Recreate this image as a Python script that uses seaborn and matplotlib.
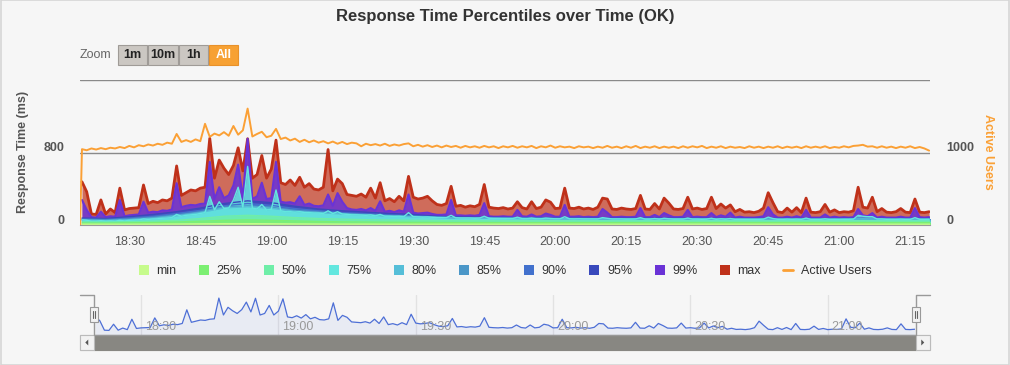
import pandas as pd
import matplotlib
matplotlib.use("Agg")
import matplotlib.pyplot as plt
import matplotlib.dates as mdates
import matplotlib.transforms as mtransforms
from matplotlib.patches import Rectangle, Patch, Polygon
from matplotlib.lines import Line2D
import seaborn as sns

W, H = 1010, 365

# one sample per minute, 18:20 -> 21:19
start = pd.Timestamp("2024-01-01 18:20:00")
minutes = pd.date_range(start, periods=180, freq="1min")
# coarse 5 minute samples for the smoother bands
coarse = pd.date_range(start, periods=37, freq="5min")
users_times = [pd.Timestamp("2024-01-01 18:19:37")] + list(minutes)

max_ms = [480, 370, 125, 120, 280, 125, 180, 140, 410, 170,
          185, 190, 195, 445, 240, 265, 250, 280, 270, 300,
          655, 330, 360, 390, 380, 410, 420, 960, 520, 720,
          630, 560, 660, 855, 600, 955, 520, 560, 770, 520,
          620, 940, 470, 450, 500, 440, 530, 420, 460, 400,
          390, 420, 836, 380, 510, 460, 340, 330, 320, 345,
          310, 410, 300, 470, 270, 295, 260, 320, 270, 540,
          310, 290, 300, 320, 270, 230, 220, 240, 430, 210,
          220, 200, 215, 205, 230, 450, 200, 190, 185, 195,
          180, 190, 260, 195, 180, 260, 185, 200, 280, 255,
          185, 190, 410, 190, 185, 200, 180, 190, 175, 200,
          300, 290, 180, 175, 190, 180, 175, 185, 330, 180,
          175, 240, 180, 300, 245, 180, 175, 185, 310, 180,
          190, 175, 185, 310, 185, 235, 190, 225, 150, 175,
          145, 150, 140, 155, 190, 360, 250, 150, 140, 190,
          145, 195, 140, 300, 145, 140, 150, 230, 145, 170,
          140, 150, 145, 160, 420, 200, 190, 310, 150, 185,
          145, 140, 150, 185, 145, 140, 290, 145, 140, 150]

p99_ms = [280, 170, 90, 85, 150, 90, 100, 95, 280, 100,
          110, 115, 120, 260, 140, 150, 145, 165, 160, 175,
          465, 200, 215, 225, 220, 235, 240, 700, 290, 420,
          300, 330, 440, 670, 300, 955, 290, 320, 470, 290,
          300, 700, 260, 250, 255, 240, 320, 225, 240, 215,
          210, 220, 340, 215, 355, 260, 190, 175, 170, 180,
          165, 190, 160, 265, 150, 160, 145, 165, 150, 340,
          140, 130, 135, 140, 125, 115, 115, 120, 280, 110,
          110, 105, 110, 105, 115, 245, 100, 95, 95, 100,
          95, 95, 170, 100, 95, 120, 95, 100, 130, 115,
          95, 95, 225, 95, 95, 100, 90, 95, 90, 95,
          180, 140, 90, 90, 95, 90, 90, 95, 190, 90,
          90, 115, 90, 135, 110, 90, 90, 95, 170, 90,
          95, 90, 90, 135, 90, 110, 95, 140, 85, 95,
          85, 85, 85, 90, 100, 200, 120, 85, 85, 95,
          85, 100, 85, 170, 85, 85, 85, 120, 85, 95,
          85, 90, 85, 90, 180, 110, 100, 135, 85, 95,
          85, 85, 85, 95, 85, 85, 190, 90, 85, 90]

p75_ms = [60, 55, 45, 45, 50, 45, 48, 45, 55, 48,
          55, 58, 60, 70, 65, 70, 72, 78, 80, 85,
          120, 100, 110, 115, 120, 130, 140, 320, 170, 260,
          185, 190, 280, 420, 200, 650, 190, 180, 230, 170,
          175, 390, 160, 150, 150, 145, 150, 140, 140, 135,
          135, 130, 160, 130, 150, 125, 120, 115, 115, 112,
          110, 115, 105, 120, 100, 100, 98, 100, 95, 140,
          95, 92, 90, 92, 88, 85, 85, 85, 110, 82,
          80, 80, 80, 78, 80, 100, 78, 75, 75, 75,
          75, 74, 90, 74, 72, 80, 72, 72, 80, 75,
          72, 72, 95, 72, 70, 72, 70, 70, 70, 70,
          85, 78, 70, 70, 70, 68, 68, 70, 85, 68,
          68, 75, 68, 78, 72, 68, 68, 68, 80, 68,
          68, 66, 68, 78, 66, 72, 68, 75, 65, 66,
          65, 65, 65, 65, 68, 90, 75, 66, 65, 68,
          65, 68, 65, 80, 65, 65, 65, 72, 65, 66,
          65, 66, 65, 68, 110, 100, 95, 95, 70, 70,
          66, 65, 65, 68, 65, 65, 85, 66, 65, 66]

p95_ms = [80, 75, 95, 120, 150, 190, 240, 270, 250, 210, 180, 160, 145,
          130, 120, 100, 92, 88, 85, 82, 80, 80, 78, 78, 78, 78, 78, 76,
          75, 75, 75, 74, 74, 78, 74, 74, 74]
p90_ms = [70, 65, 80, 100, 130, 165, 215, 240, 220, 185, 160, 140, 128,
          115, 105, 92, 85, 82, 80, 78, 76, 76, 74, 74, 74, 74, 74, 72,
          71, 71, 71, 70, 70, 74, 70, 70, 70]
p85_ms = [62, 58, 70, 88, 115, 150, 200, 215, 200, 165, 148, 130, 118,
          105, 98, 88, 82, 79, 77, 76, 74, 74, 72, 72, 72, 72, 72, 70,
          69, 69, 69, 68, 68, 72, 68, 68, 68]
p80_ms = [58, 52, 62, 78, 105, 140, 192, 205, 188, 155, 140, 125, 114,
          102, 96, 86, 81, 78, 76, 75, 73, 73, 71, 71, 71, 71, 71, 69,
          68, 68, 68, 67, 67, 71, 67, 67, 67]
p50_ms = [38, 35, 40, 45, 55, 75, 100, 110, 100, 85, 75, 68, 62,
          58, 55, 52, 50, 49, 48, 48, 48, 47, 47, 47, 47, 47, 46, 46,
          46, 46, 46, 46, 46, 48, 46, 46, 46]
p25_ms = [25, 24, 27, 30, 36, 45, 55, 60, 55, 48, 42, 38, 36,
          34, 33, 32, 31, 31, 30, 30, 30, 30, 30, 30, 30, 30, 30, 30,
          30, 30, 30, 30, 30, 31, 30, 30, 30]
min_ms = [12, 12, 12, 13, 14, 16, 18, 18, 17, 15, 14, 13, 13,
          12, 12, 12, 12, 12, 12, 12, 12, 12, 12, 12, 12, 12, 12, 12,
          12, 12, 12, 12, 12, 12, 12, 12, 12]

active_users = [0,
                1050, 1035, 1060, 1045, 1065, 1050, 1070, 1060, 1080, 1065,
                1095, 1075, 1105, 1090, 1115, 1100, 1125, 1110, 1140, 1125,
                1260, 1150, 1175, 1150, 1185, 1160, 1400, 1220, 1265, 1240,
                1285, 1235, 1370, 1250, 1310, 1610, 1225, 1260, 1290, 1215,
                1235, 1330, 1190, 1210, 1170, 1195, 1150, 1180, 1145, 1170,
                1140, 1160, 1130, 1155, 1125, 1150, 1120, 1140, 1130, 1090,
                1125, 1105, 1120, 1100, 1125, 1095, 1115, 1100, 1120, 1130,
                1090, 1110, 1085, 1105, 1080, 1100, 1075, 1100, 1080, 1095,
                1070, 1095, 1075, 1090, 1070, 1095, 1075, 1090, 1065, 1090,
                1075, 1095, 1070, 1090, 1075, 1095, 1065, 1090, 1075, 1100,
                1070, 1090, 1075, 1085, 1065, 1090, 1075, 1085, 1065, 1085,
                1070, 1095, 1070, 1085, 1065, 1090, 1070, 1095, 1065, 1085,
                1070, 1090, 1065, 1085, 1070, 1085, 1065, 1090, 1070, 1090,
                1075, 1095, 1065, 1085, 1070, 1090, 1065, 1085, 1070, 1080,
                1065, 1090, 1070, 1085, 1065, 1085, 1070, 1090, 1065, 1085,
                1070, 1085, 1065, 1090, 1070, 1085, 1070, 1090, 1065, 1080,
                1070, 1090, 1075, 1095, 1100, 1110, 1085, 1090, 1070, 1090,
                1070, 1085, 1065, 1085, 1070, 1090, 1065, 1080, 1060, 1030]

# series drawn from the highest percentile down: name, times, values, colour, line width, fill alpha
series = [
    ("max", minutes, max_ms, "#bf311a", 2.0, 0.7),
    ("99%", minutes, p99_ms, "#6a33d6", 1.5, 0.85),
    ("95%", coarse, p95_ms, "#3949bc", 1.0, 0.85),
    ("90%", coarse, p90_ms, "#4271cd", 1.0, 0.85),
    ("85%", coarse, p85_ms, "#4b97c8", 1.0, 0.85),
    ("80%", coarse, p80_ms, "#55bed8", 1.0, 0.85),
    ("75%", minutes, p75_ms, "#63e7df", 1.0, 0.85),
    ("50%", coarse, p50_ms, "#6feea8", 1.0, 0.85),
    ("25%", coarse, p25_ms, "#7cef72", 1.0, 0.85),
    ("min", coarse, min_ms, "#c6fb8c", 1.0, 0.85),
]
users_color = "#fba035"

sns.set_style("white")
plt.rcParams["font.family"] = ["Liberation Sans", "DejaVu Sans"]

bg = "#f6f6f6"
fig = plt.figure(figsize=(W / 100, H / 100), dpi=100, facecolor=bg)


def fx(px):
    return px / W


def fy(py):
    return 1 - py / H


# ---- main chart
ax = fig.add_axes([fx(80), fy(225.3), 850 / W, 145 / H])
ax.set_facecolor("none")
for name, t, vals, color, lw, alpha in series:
    ax.fill_between(t, 0, vals, color=color, alpha=alpha, lw=0)
    sns.lineplot(x=t, y=vals, color=color, lw=lw, ax=ax, legend=False)

ax.set_ylim(0, 1600)
ax.set_yticks([0, 800, 1600])
ax.set_yticklabels(["0", "800", ""])
ax.yaxis.grid(True, color="#8a8a8a", lw=1)
ax.xaxis.grid(False)
ax.set_axisbelow(True)
ax.set_xlim(pd.Timestamp("2024-01-01 18:19:35"), pd.Timestamp("2024-01-01 21:19:11"))
ax.xaxis.set_major_locator(mdates.MinuteLocator(byminute=[0, 15, 30, 45]))
ax.xaxis.set_major_formatter(mdates.DateFormatter("%H:%M"))
ax.tick_params(axis="x", length=5, width=1, color="#777777", pad=3,
               labelsize=9, labelcolor="#555555")
ax.tick_params(axis="y", length=0, pad=11, labelsize=9, labelcolor="#555555")
ax.set_xlabel("")
ax.set_ylabel("")
for s in ["left", "right", "top"]:
    ax.spines[s].set_visible(False)
ax.spines["bottom"].set_color("#999999")

ax2 = ax.twinx()
sns.lineplot(x=users_times, y=active_users, color=users_color, lw=1.4, ax=ax2, legend=False)
ax2.set_ylim(0, 2000)
ax2.set_yticks([0, 1000])
ax2.set_yticklabels(["0", "1000"])
ax2.tick_params(axis="y", length=0, pad=12, labelsize=9, labelcolor="#555555")
ax2.set_ylabel("")
ax2.grid(False)
for s in ["left", "right", "top", "bottom"]:
    ax2.spines[s].set_visible(False)

# y labels sit a few pixels above their grid lines
lift = mtransforms.ScaledTranslation(0, 6 / 100, fig.dpi_scale_trans)
for lab in ax.get_yticklabels() + ax2.get_yticklabels():
    lab.set_fontweight("bold")
    lab.set_transform(lab.get_transform() + lift)

fig.text(fx(505), fy(17), "Response Time Percentiles over Time (OK)", ha="center",
         va="center", fontsize=12, fontweight="bold", color="#333333")
fig.text(fx(23), fy(152), "Response Time (ms)", rotation=90, ha="center", va="center",
         fontsize=9, fontweight="bold", color="#555555")
fig.text(fx(988), fy(152), "Active Users", rotation=270, ha="center", va="center",
         fontsize=9, fontweight="bold", color=users_color)

# ---- zoom buttons
fig.text(fx(80), fy(55), "Zoom", ha="left", va="center", fontsize=9, color="#666666")
buttons = [("1m", 118, 147), ("10m", 148, 178), ("1h", 179, 208), ("All", 209, 238)]
for label, x0, x1 in buttons:
    active = label == "All"
    fig.patches.append(Rectangle((fx(x0), fy(65)), (x1 - x0) / W, 20 / H,
                                 transform=fig.transFigure,
                                 fc="#f7a133" if active else "#cbc7c2",
                                 ec="#e8912a" if active else "#9f9b97", lw=0.8))
    fig.text(fx((x0 + x1) / 2), fy(55), label, ha="center", va="center", fontsize=9,
             fontweight="bold", color="white" if active else "#222222")

# ---- legend
handles = [Patch(fc=s[3], ec="none", label=s[0]) for s in reversed(series)]
handles.append(Line2D([], [], color=users_color, lw=2, label="Active Users"))
fig.legend(handles=handles, loc="center", bbox_to_anchor=(fx(505), fy(271)), ncol=11,
           frameon=False, fontsize=9, handlelength=0.8, handleheight=0.8,
           handletextpad=0.6, columnspacing=1.8, labelcolor="#333333")

# ---- navigator
nav = fig.add_axes([fx(93.5), fy(335), 822 / W, 40 / H])
nav.set_facecolor("none")
nav.fill_between(minutes, 0, max_ms, color="#4d6fd6", alpha=0.08, lw=0)
sns.lineplot(x=minutes, y=max_ms, color="#4d6fd6", lw=0.9, ax=nav, legend=False)
nav.set_xlim(users_times[0], minutes[-1] + pd.Timedelta(seconds=10))
nav.set_ylim(0, 1040)
nav.set_xticks([])
nav.set_yticks([])
nav.set_xlabel("")
nav.set_ylabel("")
for s in nav.spines.values():
    s.set_visible(False)
lab_tf = mtransforms.offset_copy(nav.get_xaxis_transform(), fig=fig, x=4, y=0, units="dots")
for hhmm in ["18:30", "19:00", "19:30", "20:00", "20:30", "21:00"]:
    tt = pd.Timestamp("2024-01-01 " + hhmm)
    nav.axvline(tt, color="#e2e2e2", lw=1, zorder=0)
    nav.text(tt, 0.21, hhmm, transform=lab_tf, ha="left", va="center",
             fontsize=9, color="#999999")

# navigator outline and handles
fig.lines.append(Line2D([fx(80), fx(93.5), fx(93.5), fx(915.5), fx(915.5), fx(930)],
                        [fy(295), fy(295), fy(335), fy(335), fy(295), fy(295)],
                        transform=fig.transFigure, color="#999999", lw=1))
for hx in [93.5, 915.5]:
    fig.patches.append(Rectangle((fx(hx - 4), fy(322)), 8 / W, 15 / H,
                                 transform=fig.transFigure, fc="#f2f2f2", ec="#999999",
                                 lw=0.8, zorder=5))
    for dx in [-1, 1]:
        fig.lines.append(Line2D([fx(hx + dx), fx(hx + dx)], [fy(311), fy(318)],
                                transform=fig.transFigure, color="#666666", lw=0.8,
                                zorder=6))

# scrollbar
fig.patches.append(Rectangle((fx(80), fy(350)), 850 / W, 15 / H, transform=fig.transFigure,
                             fc="#f2f2f2", ec="#cccccc", lw=0.8))
fig.patches.append(Rectangle((fx(93.5), fy(350)), 822 / W, 15 / H,
                             transform=fig.transFigure, fc="#888782", ec="#888782", lw=0.8))
for bx0, bx1, d in [(80, 93.5, -1), (915.5, 930, 1)]:
    fig.patches.append(Rectangle((fx(bx0), fy(350)), (bx1 - bx0) / W, 15 / H,
                                 transform=fig.transFigure, fc="#f2f2f2", ec="#bbbbbb",
                                 lw=0.8))
    cx, cy = (bx0 + bx1) / 2, 342.5
    pts = [(fx(cx + 1.5 * d), fy(cy)), (fx(cx - 1.5 * d), fy(cy - 3)),
           (fx(cx - 1.5 * d), fy(cy + 3))]
    fig.patches.append(Polygon(pts, closed=True, transform=fig.transFigure,
                               fc="#555555", ec="none"))

# outer border
fig.patches.append(Rectangle((0.0005, 0.001), 0.999, 0.998, transform=fig.transFigure,
                             fc="none", ec="#d6d6d6", lw=1.2))

fig.savefig("out.png", dpi=100, facecolor=bg)
